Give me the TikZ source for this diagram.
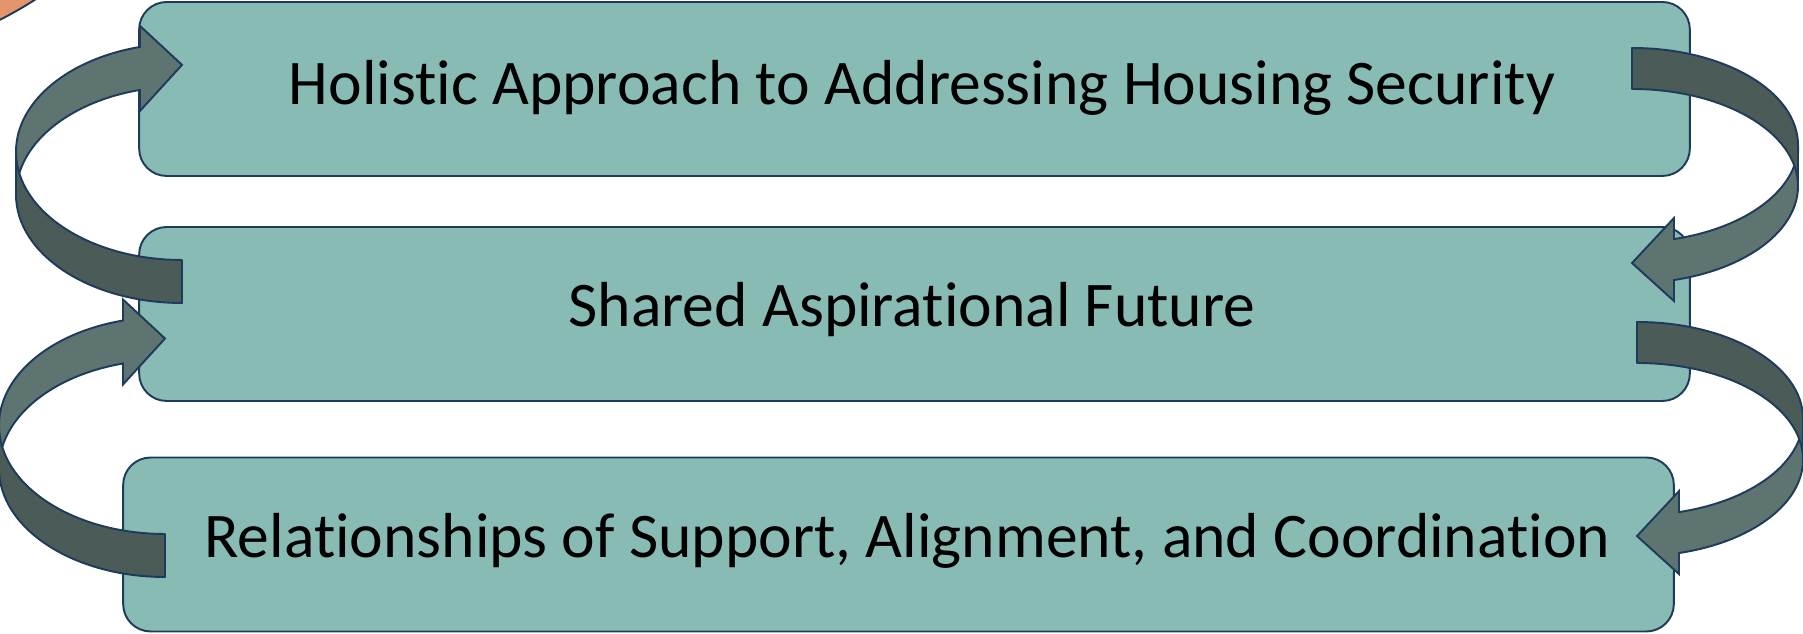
\documentclass[tikz,border=0pt]{standalone}
\usepackage{fontspec}
\setmainfont{Carlito}[Ligatures=NoCommon]
\usetikzlibrary{positioning, calc}
\definecolor{boxteal}{HTML}{88BBB4}
\definecolor{navy}{HTML}{1F3B5C}
\definecolor{arrlight}{HTML}{5E7471}
\definecolor{arrdark}{HTML}{4A5B58}
\definecolor{peach}{HTML}{E5956C}

% curved block arrow: #1 tail corner, #2 rotation, #3 ellipse y radius, #4 band thickness
\newcommand{\bentarrow}[4]{%
  \begin{scope}[shift={#1}, rotate=#2]
    \filldraw[frontband] (-166,{#3+#4})
      arc[start angle=180, end angle=104.65, x radius=166, y radius=#3]
      -- (-42,{1.9675*#3+#4+21}) -- (0,{1.9675*#3+#4/2+3.5}) -- (-42,{1.9675*#3-21})
      -- (-42,{1.9675*#3})
      arc[start angle=104.65, end angle=180, x radius=166, y radius=#3] -- cycle;
    \filldraw[backband] (-166,#3)
      arc[start angle=180, end angle=270, x radius=166, y radius=#3]
      -- (0,#4) arc[start angle=270, end angle=180, x radius=166, y radius=#3] -- cycle;
  \end{scope}}

\begin{document}
\begin{tikzpicture}[
  x=0.02cm, y=0.02cm,
  level/.style={draw=navy, fill=boxteal, line width=1.1pt, rounded corners=0.55cm,
    minimum width=31.02cm, minimum height=3.48cm, inner sep=0pt},
  lbl/.style={anchor=base, inner sep=0pt, font=\fontsize{36.2}{43}\selectfont, text=black},
  backband/.style={fill=arrdark, draw=navy, line width=1.1pt, line join=round},
  frontband/.style={fill=arrlight, draw=navy, line width=1.1pt},
]
\useasboundingbox (0,0) rectangle (1803,634);

% Corner of the neighbouring shape
\filldraw[fill=peach, draw=navy, line width=1.1pt] (-181,971) circle (400);

% === Levels ===
\node[level] (holistic) at (914.5,545) {};
\node[level] (shared) at (914.5,320) {};
\node[level] (relations) at (898.5,89.5) {};

\node[lbl] (holisticText) at (922,529) {Holistic Approach to Addressing Housing Security};
\node[lbl] (sharedText) at (912,307) {Shared Aspirational Future};
\node[lbl] (relationsText) at (907.5,76) {Relationships of Support, Alignment, and Coordination};

% === Curved arrows ===
\bentarrow{(182,331)}{0}{108.3}{43}    % shared -> holistic
\bentarrow{(165,57)}{0}{108.5}{43}     % relations -> shared
\bentarrow{(1632,586)}{180}{97.1}{41}  % holistic -> shared
\bentarrow{(1637,312)}{180}{96.6}{41}  % shared -> relations

\end{tikzpicture}
\end{document}
